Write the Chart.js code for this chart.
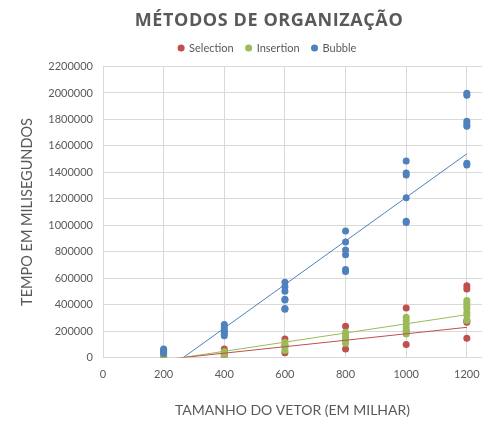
<!DOCTYPE html>
<html>
<head>
<meta charset="utf-8">
<script src="https://cdn.jsdelivr.net/npm/chart.js@4"></script>
<style>
  html, body { margin: 0; padding: 0; background: #ffffff; }
  #wrap { width: 500px; height: 426px; }
</style>
</head>
<body>
<div id="wrap"><canvas id="c" width="500" height="426"></canvas></div>
<script>
// ---- data ----
const chartTitle = "MÉTODOS DE ORGANIZAÇÃO";
const xAxisTitle = "TAMANHO DO VETOR (EM MILHAR)";
const yAxisTitle = "TEMPO EM MILISEGUNDOS";
const seriesNames = ["Selection", "Insertion", "Bubble"];
const seriesColors = ["#C0504D", "#9BBB59", "#4F81BD"];

const vectorSizes = [200, 400, 600, 800, 1000, 1200];

const selectionTimes = [
  [3000, 2000],
  [65000, 45000, 25000, 10000],
  [140000, 90000, 35000],
  [236000, 150000, 65000],
  [374000, 200000, 98000],
  [543000, 518000, 279000, 266000, 145000]
];
const insertionTimes = [
  [8000, 15000],
  [45000, 30000, 20000],
  [115000, 95000, 75000, 53000],
  [191000, 170000, 150000, 130000, 108000],
  [304000, 280000, 250000, 225000, 200000, 178000],
  [430000, 410000, 390000, 370000, 340000, 320000, 280000]
];
const bubbleTimes = [
  [65000, 55000, 45000, 35000, 30000],
  [250000, 230000, 210000, 195000, 180000, 165000],
  [568000, 535000, 500000, 440000, 435000, 370000, 364000],
  [957000, 874000, 812000, 776000, 665000, 650000],
  [1485000, 1394000, 1379000, 1208000, 1030000, 1020000],
  [1997000, 1982000, 1786000, 1765000, 1748000, 1469000, 1455000]
];

// linear trendlines (y = slope * x + intercept)
const trendSlopes = [244, 346.5, 1647];
const trendIntercepts = [-64700, -91800, -436500];

const yTickMax = 2200000;
const yTickStep = 200000;
const xTickStep = 200;
const xAxisMax = 1250;

// ---- build datasets ----
const allTimes = [selectionTimes, insertionTimes, bubbleTimes];
function toPoints(times) {
  const pts = [];
  times.forEach((vals, i) => vals.forEach(v => pts.push({ x: vectorSizes[i], y: v })));
  return pts;
}
const datasets = [];
allTimes.forEach((times, s) => {
  datasets.push({
    type: 'scatter',
    label: seriesNames[s],
    data: toPoints(times),
    backgroundColor: seriesColors[s],
    borderColor: seriesColors[s],
    pointRadius: 3.5,
    pointHoverRadius: 3.5,
    pointBorderWidth: 0,
    order: 10 - s
  });
});
allTimes.forEach((times, s) => {
  const x0 = vectorSizes[0], x1 = vectorSizes[vectorSizes.length - 1];
  datasets.push({
    type: 'line',
    label: seriesNames[s] + ' trend',
    isTrend: true,
    data: [
      { x: x0, y: trendSlopes[s] * x0 + trendIntercepts[s] },
      { x: x1, y: trendSlopes[s] * x1 + trendIntercepts[s] }
    ],
    borderColor: seriesColors[s],
    borderWidth: 1,
    pointRadius: 0,
    fill: false,
    order: 0
  });
});

const titlePlugin = {
  id: 'customTitle',
  beforeDraw(chart) {
    // Shift the legend a little, like the reference
    const lg = chart.legend;
    if (lg && !lg._shifted) {
      lg.left += 17; lg.right += 17;
      lg.top -= 3; lg.bottom -= 3;
      lg._shifted = true;
    }
  },
  afterDraw(chart) {
    const ctx = chart.ctx;
    ctx.save();
    ctx.font = 'bold 18px "Open Sans"';
    ctx.fillStyle = '#595959';
    ctx.textAlign = 'center';
    ctx.textBaseline = 'middle';
    try { ctx.letterSpacing = '0.6px'; } catch (e) {}
    ctx.fillText(chartTitle, 269, 21);
    ctx.restore();
  }
};

Chart.defaults.font.family = 'Lato, "Open Sans", sans-serif';
Chart.defaults.color = '#595959';

new Chart(document.getElementById('c'), {
  type: 'scatter',
  data: { datasets },
  plugins: [titlePlugin],
  options: {
    responsive: false,
    animation: false,
    events: [],
    layout: { padding: { top: 33, left: 19, right: 18, bottom: 7 } },
    plugins: {
      title: { display: false },
      tooltip: { enabled: false },
      legend: {
        display: true,
        position: 'top',
        labels: {
          usePointStyle: true,
          pointStyle: 'circle',
          boxWidth: 5,
          boxHeight: 5,
          padding: 12.5,
          color: '#595959',
          font: { size: 11 },
          filter: (item, data) => !data.datasets[item.datasetIndex].isTrend,
          sort: (a, b) => a.datasetIndex - b.datasetIndex
        }
      }
    },
    scales: {
      x: {
        type: 'linear',
        min: 0,
        max: xAxisMax,
        ticks: { stepSize: xTickStep, includeBounds: false, padding: 10, color: '#595959', font: { size: 11 }, callback: v => String(v) },
        grid: { color: '#D9D9D9', drawTicks: false },
        border: { display: false },
        title: { display: true, text: xAxisTitle, color: '#595959', font: { size: 14 }, padding: { top: 11.5, bottom: 0 } }
      },
      y: {
        type: 'linear',
        min: 0,
        max: yTickMax,
        ticks: { stepSize: yTickStep, padding: 10, color: '#595959', font: { size: 11 }, callback: v => String(v) },
        grid: { color: '#D9D9D9', drawTicks: false },
        border: { display: false },
        title: { display: true, text: yAxisTitle, color: '#595959', font: { size: 14.5 }, padding: { top: 0, bottom: 10 } },
        afterFit(scale) { scale.width = 84; }
      }
    }
  }
});
</script>
</body>
</html>
